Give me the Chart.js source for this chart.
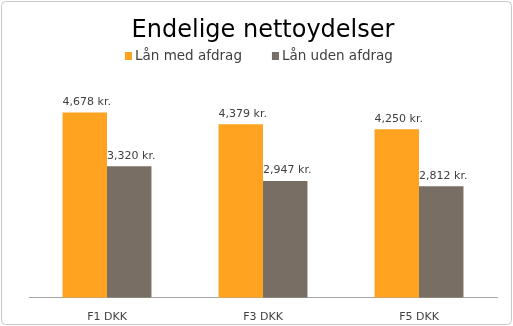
<!DOCTYPE html>
<html>
<head>
<meta charset="utf-8">
<script src="https://cdn.jsdelivr.net/npm/chart.js@4"></script>
<style>
  body { margin: 0; background: #fff; }
  #wrap { width: 513px; height: 326px; position: relative; }
</style>
</head>
<body>
<div id="wrap"><canvas id="graph_1" width="513" height="326"></canvas></div>
<script>
// data
var categories = ['F1 DKK', 'F3 DKK', 'F5 DKK'];
var medAfdrag = [4678, 4379, 4250];
var udenAfdrag = [3320, 2947, 2812];
var seriesNames = ['Lån med afdrag', 'Lån uden afdrag'];

var orange = 'rgb(255,163,33)';
var brown = 'rgb(120,110,100)';

function fmtKr(v) {
  return v.toLocaleString('en-US') + ' kr.';
}

// rounded frame round the whole chart
var framePlugin = {
  id: 'frame',
  beforeDraw: function(chart) {
    var c = chart.ctx;
    c.save();
    c.fillStyle = '#fff';
    c.fillRect(0, 0, chart.width, chart.height);
    c.strokeStyle = '#c8c8c8';
    c.lineWidth = 1;
    c.beginPath();
    c.roundRect(1.5, 1.5, chart.width - 3, chart.height - 3, 4);
    c.stroke();
    c.restore();
  }
};

// legend drawn by hand so the gaps match
var legendPlugin = {
  id: 'myLegend',
  afterDraw: function(chart) {
    var c = chart.ctx;
    c.save();
    c.font = '13.5px "DejaVu Sans"';
    c.textBaseline = 'middle';
    c.textAlign = 'left';
    var box = 7, gapTxt = 3, gapItem = 30, y = 56;
    var items = chart.data.datasets.map(function(ds) {
      return { text: ds.label, color: ds.backgroundColor, w: c.measureText(ds.label).width };
    });
    var total = 0;
    items.forEach(function(it, i) { total += box + gapTxt + it.w + (i > 0 ? gapItem : 0); });
    var x = Math.round(chart.width / 2 - total / 2) + 2;
    items.forEach(function(it) {
      c.fillStyle = it.color;
      c.fillRect(x, y - 4, box, box + 1);
      c.fillStyle = '#404040';
      c.fillText(it.text, x + box + gapTxt, y);
      x += box + gapTxt + it.w + gapItem;
    });
    c.restore();
  }
};

// value labels above every bar
var labelPlugin = {
  id: 'barLabels',
  afterDatasetsDraw: function(chart) {
    var c = chart.ctx;
    c.save();
    c.font = '11px "DejaVu Sans"';
    c.fillStyle = '#404040';
    c.textAlign = 'center';
    c.textBaseline = 'bottom';
    chart.data.datasets.forEach(function(ds, i) {
      chart.getDatasetMeta(i).data.forEach(function(bar, j) {
        c.fillText(fmtKr(ds.data[j]), bar.x + 2, bar.y - 5);
      });
    });
    c.restore();
  }
};

var ctx = document.getElementById('graph_1');
var myChart = new Chart(ctx, {
  type: 'bar',
  data: {
    labels: categories,
    datasets: [{
      label: seriesNames[0],
      data: medAfdrag,
      backgroundColor: orange,
      categoryPercentage: 0.57,
      barPercentage: 1
    }, {
      label: seriesNames[1],
      data: udenAfdrag,
      backgroundColor: brown,
      categoryPercentage: 0.57,
      barPercentage: 1
    }]
  },
  options: {
    responsive: false,
    animation: false,
    layout: { padding: { left: 29, right: 16, top: 0, bottom: -11 } },
    plugins: {
      title: {
        display: true,
        text: 'Endelige nettoydelser',
        color: '#000',
        font: { family: 'DejaVu Sans', size: 24, weight: 'normal' },
        padding: { top: 16, bottom: 35 }
      },
      legend: { display: false },
      tooltip: { enabled: false }
    },
    scales: {
      x: {
        grid: { display: false, drawTicks: false },
        border: { display: true, color: '#a6a6a6', width: 1 },
        ticks: { color: '#404040', font: { family: 'DejaVu Sans', size: 11 }, padding: 13 }
      },
      y: {
        display: false,
        min: 0,
        max: 5500
      }
    }
  },
  plugins: [framePlugin, legendPlugin, labelPlugin]
});
</script>
</body>
</html>
